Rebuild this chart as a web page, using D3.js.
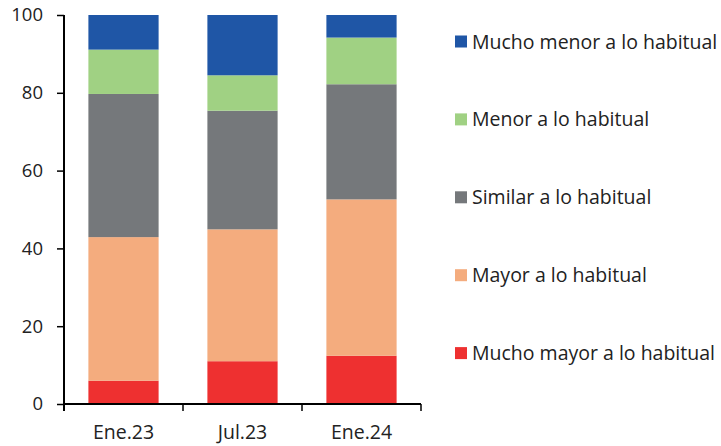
<!DOCTYPE html>
<html>
<head>
<meta charset="utf-8">
<script src="https://cdn.jsdelivr.net/npm/d3@7"></script>
<style>
  body { margin: 0; background: #fff; }
  text { font-family: "Open Sans", "Noto Sans", sans-serif; fill: #222; }
</style>
</head>
<body>
<div id="chart"></div>
<script>
// categories and series (percent shares, bottom to top)
const periods = ['Ene.23', 'Jul.23', 'Ene.24'];
const muchoMayor = [6.0, 11.0, 12.4];
const mayor = [36.9, 33.9, 40.2];
const similar = [36.8, 30.5, 29.6];
const menor = [11.4, 9.1, 12.0];
const muchoMenor = [8.9, 15.5, 5.8];
const seriesNames = ['Mucho mayor a lo habitual', 'Mayor a lo habitual', 'Similar a lo habitual', 'Menor a lo habitual', 'Mucho menor a lo habitual'];
const seriesColors = ['#ee3030', '#f4ac7e', '#75787b', '#a0d183', '#1f56a6'];
const yTicks = [0, 20, 40, 60, 80, 100];

const w = 721,
      h = 446;

// build rows for the stack
const keys = ['muchoMayor', 'mayor', 'similar', 'menor', 'muchoMenor'];
const rows = periods.map((p, i) => ({
    period: p,
    muchoMayor: muchoMayor[i],
    mayor: mayor[i],
    similar: similar[i],
    menor: menor[i],
    muchoMenor: muchoMenor[i]
}));
const stacked = d3.stack().keys(keys)(rows);

const svg = d3.select('#chart')
    .append('svg')
    .attr('width', w)
    .attr('height', h);

const xScale = d3.scaleBand()
    .domain(periods)
    .range([64, 421])
    .paddingInner(0.41)
    .paddingOuter(0.205);

const yScale = d3.scaleLinear()
    .domain([0, 100])
    .range([404, 15]);

// bars
svg.selectAll('g.layer')
    .data(stacked)
    .enter()
    .append('g')
    .attr('class', 'layer')
    .attr('fill', (d, i) => seriesColors[i])
    .selectAll('rect')
    .data(d => d)
    .enter()
    .append('rect')
    .attr('x', d => xScale(d.data.period))
    .attr('width', xScale.bandwidth())
    .attr('y', d => yScale(d[1]))
    .attr('height', d => yScale(d[0]) - yScale(d[1]));

// y axis
const yAxis = d3.axisLeft(yScale).tickValues(yTicks).tickSize(7).tickPadding(14).tickSizeOuter(0);
const gy = svg.append('g')
    .attr('transform', 'translate(64,0)')
    .call(yAxis);
gy.select('.domain').attr('stroke', '#000').attr('stroke-width', 2).attr('d', 'M0,15V411');
gy.selectAll('.tick line').attr('stroke', '#000').attr('stroke-width', 1.5);
gy.selectAll('.tick text').attr('font-size', 18.5).attr('fill', '#222');

// x axis with ticks at band boundaries
const gx = svg.append('g')
    .attr('transform', 'translate(0,404)');
gx.append('line')
    .attr('x1', 64).attr('x2', 421)
    .attr('y1', 0).attr('y2', 0)
    .attr('stroke', '#000').attr('stroke-width', 2);
const step = xScale.step();
const bounds = d3.range(periods.length + 1).map(i => 64 + i * step);
gx.selectAll('.xt')
    .data(bounds)
    .enter()
    .append('line')
    .attr('x1', d => d).attr('x2', d => d)
    .attr('y1', 0).attr('y2', 7)
    .attr('stroke', '#000').attr('stroke-width', 1.5);
gx.selectAll('.xl')
    .data(periods)
    .enter()
    .append('text')
    .text(d => d)
    .attr('x', d => xScale(d) + xScale.bandwidth() / 2)
    .attr('y', 35)
    .attr('text-anchor', 'middle')
    .attr('font-size', 19.5);

// legend, top entry is the last series
const legendOrder = d3.range(seriesNames.length).reverse();
const legend = svg.selectAll('.legend')
    .data(legendOrder)
    .enter()
    .append('g')
    .attr('class', 'legend')
    .attr('transform', (d, i) => 'translate(455,' + (41.5 + i * 77.9) + ')');
legend.append('rect')
    .attr('x', 0)
    .attr('y', -6)
    .attr('width', 12)
    .attr('height', 12)
    .attr('fill', d => seriesColors[d]);
legend.append('text')
    .text(d => seriesNames[d])
    .attr('x', 17)
    .attr('y', 7)
    .attr('font-size', 19.5);
</script>
</body>
</html>
